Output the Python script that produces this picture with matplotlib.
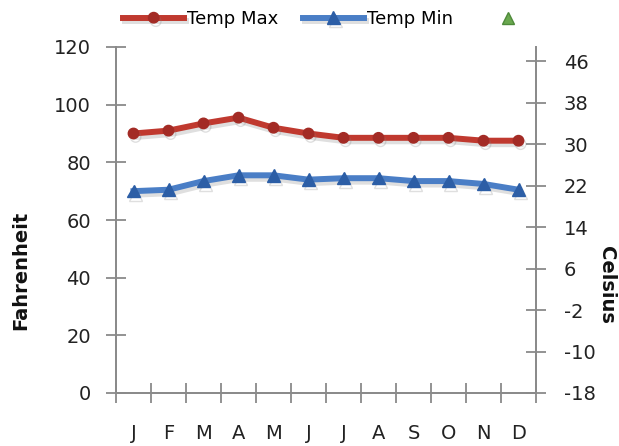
import matplotlib
matplotlib.use("Agg")
import matplotlib.pyplot as plt
import matplotlib.patheffects as pe

months = ["J", "F", "M", "A", "M", "J", "J", "A", "S", "O", "N", "D"]
temp_max = [90, 91, 93.5, 95.5, 92, 90, 88.5, 88.5, 88.5, 88.5, 87.5, 87.5]
temp_min = [70, 70.5, 73.5, 75.5, 75.5, 74, 74.5, 74.5, 73.5, 73.5, 72.5, 70.5]
f_ticks = [0, 20, 40, 60, 80, 100, 120]
c_ticks = [-18, -10, -2, 6, 14, 22, 30, 38, 46]

RED = "#c0392f"
RED_DARK = "#a32b25"
BLUE = "#4a7ec6"
BLUE_DARK = "#2c5ea6"
GREEN = "#6aa84f"
AXIS = "#8a8a8a"
TEXT = "#222222"

plt.rcParams["font.family"] = ["DejaVu Sans"]

fig = plt.figure(figsize=(6.19, 4.46), dpi=100)
ax = fig.add_axes([116 / 619, 1 - 393 / 446, 420 / 619, 346 / 446])
ax2 = ax.twinx()

x = list(range(len(months)))
shadow = [pe.SimpleLineShadow(offset=(1.5, -2.5), shadow_color="#808080", alpha=0.25),
          pe.Normal()]

l_max, = ax.plot(x, temp_max, color=RED, lw=4.3, marker="o", ms=7.5,
                 mfc=RED_DARK, mec=RED_DARK, label="Temp Max",
                 path_effects=shadow, zorder=3)
l_min, = ax.plot(x, temp_min, color=BLUE, lw=4.3, marker="^", ms=9,
                 mfc=BLUE_DARK, mec=BLUE_DARK, label="Temp Min",
                 path_effects=shadow, zorder=3)
# Celsius series on the secondary axis (legend entry only)
l_c, = ax2.plot([], [], ls="none", marker="^", ms=8, mfc=GREEN,
                mec="#4e8a3a", label=" ")

ax.set_xlim(-0.5, len(months) - 0.5)
ax.set_ylim(0, 120)
ax2.set_ylim(-18, 48.7)

ax.set_yticks(f_ticks)
ax2.set_yticks(c_ticks)
ax2.set_yticklabels([str(v) for v in c_ticks])

# category boundaries as major ticks, labels centred on minor ticks
ax.set_xticks([i - 0.5 for i in range(len(months) + 1)])
ax.set_xticklabels([])
ax.set_xticks(x, minor=True)
ax.set_xticklabels(months, minor=True)

for a in (ax, ax2):
    for s in a.spines.values():
        s.set_color(AXIS)
        s.set_linewidth(1.3)
    a.spines["top"].set_visible(False)

ax.tick_params(axis="y", which="major", direction="inout", length=14,
               width=1.3, color=AXIS, labelsize=14, labelcolor=TEXT, pad=11)
ax2.tick_params(axis="y", which="major", direction="inout", length=14,
                width=1.3, color=AXIS, labelsize=14, labelcolor=TEXT, pad=13)
ax.tick_params(axis="x", which="major", direction="inout", length=14,
               width=1.3, color=AXIS)
ax.tick_params(axis="x", which="minor", length=0, labelsize=14,
               labelcolor=TEXT, pad=22)

fig.text(21 / 619, 1 - 270 / 446, "Fahrenheit", rotation=90, ha="center",
         va="center", fontsize=14, fontweight="bold", color="#111111")
fig.text(607 / 619, 1 - 285 / 446, "Celsius", rotation=-90, ha="center",
         va="center", fontsize=14, fontweight="bold", color="#111111")

fig.legend(handles=[l_max, l_min, l_c], loc="center left",
           bbox_to_anchor=(123 / 619, 1 - 19 / 446), ncol=3, frameon=False,
           fontsize=13, handlelength=3.4, handletextpad=0.15,
           columnspacing=1.35, borderpad=0, borderaxespad=0)

fig.savefig("out.png", dpi=100)
